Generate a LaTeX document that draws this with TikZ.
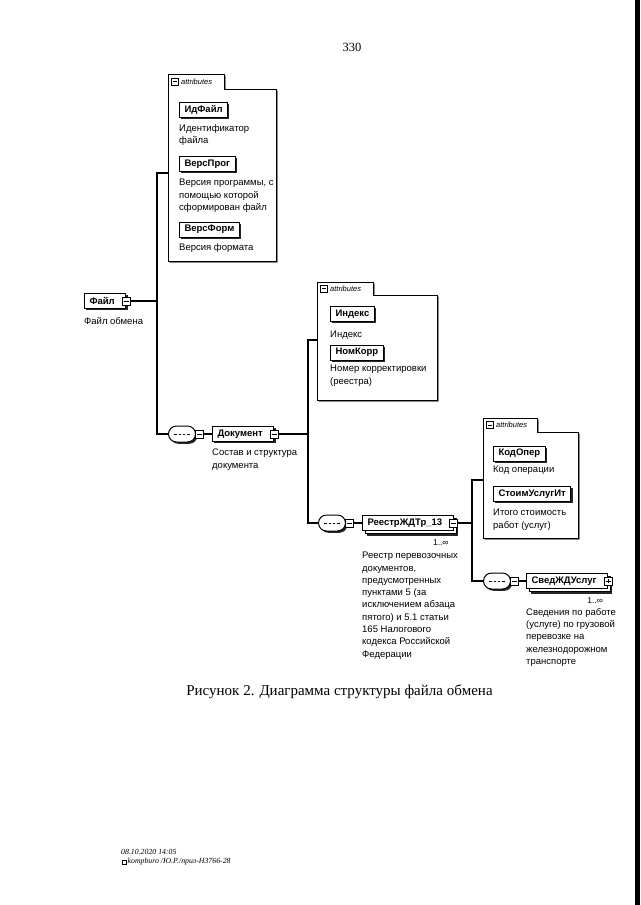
\documentclass[tikz,border=0pt]{standalone}
\usepackage{fontspec}
\setmainfont{Liberation Serif}
\setsansfont{Liberation Sans}
\usetikzlibrary{positioning,shadows,shapes.misc}

% room for the expand box at the right end of an element
\newcommand{\kidgap}{\hspace*{6pt}}

\tikzset{
  conn/.style={line width=1.1pt},
  elembase/.style={draw, line width=1pt, fill=white, anchor=west,
    font=\sffamily\bfseries\fontsize{9.5}{11}\selectfont,
    inner xsep=5pt, inner ysep=0pt, minimum height=15pt},
  elem/.style={elembase,
    drop shadow={shadow xshift=1.8pt, shadow yshift=-1.8pt, fill=black!85, opacity=1}},
  elemmany/.style={elembase,
    general shadow={shadow xshift=4.5pt, shadow yshift=-5pt, fill=black!85},
    copy shadow={shadow xshift=2.8pt, shadow yshift=-3.2pt, draw=black, fill=white, line width=0.9pt}},
  minus/.style={draw, fill=white, line width=0.7pt, minimum size=8pt, inner sep=0pt,
    path picture={\draw[line width=0.7pt] ([xshift=1.6pt]path picture bounding box.west)
      -- ([xshift=-1.6pt]path picture bounding box.east);}},
  plus/.style={minus,
    path picture={\draw[line width=0.7pt] ([xshift=1.6pt]path picture bounding box.west)
      -- ([xshift=-1.6pt]path picture bounding box.east)
      ([yshift=1.6pt]path picture bounding box.south) -- ([yshift=-1.6pt]path picture bounding box.north);}},
  seq/.style={rounded rectangle, draw, line width=1pt,
    fill=white, minimum width=27pt, minimum height=16pt, inner sep=0pt, anchor=west,
    drop shadow={shadow xshift=1.8pt, shadow yshift=-1.8pt, fill=black!85, opacity=1},
    path picture={
      \draw[line width=0.8pt] ([xshift=-8pt]path picture bounding box.center)
        -- ([xshift=8pt]path picture bounding box.center);
      \foreach \dx in {-4,0,4}
        \fill ([xshift=\dx pt]path picture bounding box.center) circle (1.4pt);
    }},
  attr/.style={draw, line width=1pt, fill=white,
    drop shadow={shadow xshift=1.5pt, shadow yshift=-1.5pt, fill=black!70, opacity=1}},
  attrlabel/.style={anchor=west, inner sep=0pt, font=\sffamily\itshape\fontsize{7.5}{8}\selectfont},
  desc/.style={anchor=north west, inner sep=0pt, align=left,
    font=\sffamily\fontsize{9.5}{12.3}\selectfont},
  mult/.style={inner sep=0pt, anchor=north east, font=\sffamily\fontsize{8.5}{9}\selectfont},
}

\begin{document}
\begin{tikzpicture}[x=1pt, y=-1pt]

  % Page and margins
  \fill[white] (0,0) rectangle (640,905);
  \useasboundingbox (0,0) rectangle (640,905);
  \fill[black] (635,0) rectangle (640,905);

  \node[font=\fontsize{12.5}{14}\selectfont] (pagenum) at (352,47) {330};

  % Root element
  \node[elem] (fayl) at (84,301) {Файл\kidgap};
  \node[minus] (faylsq) at (fayl.east) {};
  \node[desc] (fayldesc) at (84,317) {Файл обмена};

  % Attributes of the root
  \path[attr] (168,261) -- (168,74) -- (224,74) -- (224,89) -- (276,89) -- (276,261) -- cycle;
  \node[minus, minimum size=7pt] (attrAsq) at (175,81.5) {};
  \node[attrlabel] (attrAlabel) at (181,81.5) {attributes};
  \node[elem] (idfayl) at (179,109.5) {ИдФайл};
  \node[desc] (idfayldesc) at (179,124) {Идентификатор\\файла};
  \node[elem] (versprog) at (179,164) {ВерсПрог};
  \node[desc] (versprogdesc) at (179,179) {Версия программы, с\\помощью которой\\сформирован файл};
  \node[elem] (versform) at (179,229.5) {ВерсФорм};
  \node[desc] (versformdesc) at (179,243) {Версия формата};

  % Sequence with the document
  \node[seq] (seqA) at (168,434) {};
  \node[minus, right=-1pt of seqA] (seqAsq) {};
  \node[elem] (doc) at (212,434) {Документ\kidgap};
  \node[minus] (docsq) at (doc.east) {};
  \node[desc] (docdesc) at (212,449) {Состав и структура\\документа};

  % Attributes of the document
  \path[attr] (317,400) -- (317,282) -- (373,282) -- (373,295) -- (437,295) -- (437,400) -- cycle;
  \node[minus, minimum size=7pt] (attrBsq) at (324,288.5) {};
  \node[attrlabel] (attrBlabel) at (330,288.5) {attributes};
  \node[elem] (indeks) at (330,314) {Индекс};
  \node[desc] (indeksdesc) at (330,331) {Индекс};
  \node[elem] (nomkorr) at (330,352.5) {НомКорр};
  \node[desc] (nomkorrdesc) at (330,365) {Номер корректировки\\(реестра)};

  % Sequence with the register
  \node[seq] (seqB) at (318,523) {};
  \node[minus, right=-1pt of seqB] (seqBsq) {};
  \node[elemmany] (reestr) at (362,523) {РеестрЖДТр\_13\kidgap};
  \node[minus] (reestrsq) at (reestr.east) {};
  \node[mult] (reestrmult) at ([xshift=-5pt, yshift=-8pt]reestr.south east) {1..∞};
  \node[desc] (reestrdesc) at (362,552) {Реестр перевозочных\\документов,\\предусмотренных\\пунктами 5 (за\\исключением абзаца\\пятого) и 5.1 статьи\\165 Налогового\\кодекса Российской\\Федерации};

  % Attributes of the register
  \path[attr] (483,538) -- (483,418) -- (537,418) -- (537,432) -- (578,432) -- (578,538) -- cycle;
  \node[minus, minimum size=7pt] (attrCsq) at (490,425) {};
  \node[attrlabel] (attrClabel) at (496,425) {attributes};
  \node[elem] (kodoper) at (493,453.5) {КодОпер};
  \node[desc] (kodoperdesc) at (493,466) {Код операции};
  \node[elem] (stoim) at (493,494) {СтоимУслугИт};
  \node[desc] (stoimdesc) at (493,509) {Итого стоимость\\работ (услуг)};

  % Sequence with the services
  \node[seq] (seqC) at (483,581) {};
  \node[minus, right=-1pt of seqC] (seqCsq) {};
  \node[elemmany] (sved) at (526,581) {СведЖДУслуг\kidgap};
  \node[plus] (svedsq) at (sved.east) {};
  \node[mult] (svedmult) at ([xshift=-5pt, yshift=-8pt]sved.south east) {1..∞};
  \node[desc] (sveddesc) at (526,608) {Сведения по работе\\(услуге) по грузовой\\перевозке на\\железнодорожном\\транспорте};

  % Connectors
  \coordinate (attrA) at (168,173);
  \coordinate (jA) at (157,301);
  \draw[conn] (faylsq.east) -- (jA);
  \draw[conn] (attrA) -| (jA) |- (seqA.west);
  \draw[conn] (seqAsq) -- (doc);

  \coordinate (attrB) at (317,340);
  \coordinate (jB) at (308,434);
  \draw[conn] (docsq.east) -- (jB);
  \draw[conn] (attrB) -| (jB) |- (seqB.west);
  \draw[conn] (seqBsq) -- (reestr);

  \coordinate (attrC) at (483,480);
  \coordinate (jC) at (472,523);
  \draw[conn] (reestrsq.east) -- (jC);
  \draw[conn] (attrC) -| (jC) |- (seqC.west);
  \draw[conn] (seqCsq) -- (sved);

  % Caption and footer
  \node[font=\fontsize{15}{18}\selectfont] (caption) at (339.5,692) {Рисунок 2. Диаграмма структуры файла обмена};
  \node[anchor=west, inner sep=0pt, font=\itshape\fontsize{7.8}{9}\selectfont] (stamp) at (121,852) {08.10.2020 14:05};
  \node[draw, line width=0.4pt, minimum width=4.5pt, minimum height=4pt, inner sep=0pt] (pcicon) at (124,862) {};
  \node[anchor=west, inner sep=0pt, font=\itshape\fontsize{7.8}{9}\selectfont] (stampsrc) at (127.5,862) {kompburo /Ю.Р./прил-Н3766-28};

\end{tikzpicture}
\end{document}
